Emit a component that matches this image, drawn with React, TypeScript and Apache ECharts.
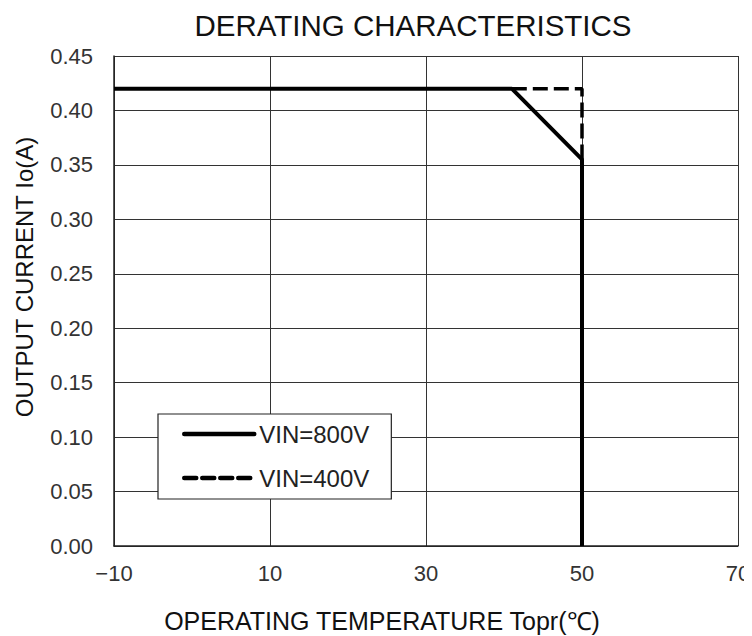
import React, { useEffect, useRef } from "react";
import * as echarts from "echarts";

const xTicks = [-10, 10, 30, 50, 70];
const yTicks = [0, 0.05, 0.1, 0.15, 0.2, 0.25, 0.3, 0.35, 0.4, 0.45];
const vin800: [number, number][] = [
  [-10, 0.42],
  [41, 0.42],
  [50, 0.355],
  [50, 0],
];
const vin400: [number, number][] = [
  [41, 0.42],
  [50, 0.42],
  [50, 0.355],
];
const seriesNames = ["VIN=800V", "VIN=400V"];
const titleText = "DERATING CHARACTERISTICS";
const xName = "OPERATING TEMPERATURE Topr(\u2103)";
const yName = "OUTPUT CURRENT Io(A)";

const FONT = "'Liberation Sans', Arial, sans-serif";

export default function App() {
  const ref = useRef<HTMLDivElement>(null);
  useEffect(() => {
    if (!ref.current) return;
    const chart = echarts.init(ref.current, null, { renderer: "svg" });
    chart.setOption({
      animation: false,
      backgroundColor: "#ffffff",
      title: {
        text: titleText,
        left: 408,
        top: 5,
        textAlign: "center",
        textStyle: { fontFamily: FONT, fontSize: 29.5, fontWeight: "normal", color: "#111" },
      },
      graphic: [
        {
          type: "text",
          x: 24,
          y: 277,
          rotation: Math.PI / 2,
          style: {
            text: yName,
            fontFamily: FONT,
            fontSize: 24,
            fill: "#111",
            textAlign: "center",
            textVerticalAlign: "middle",
          },
        },
        {
          type: "text",
          x: 382,
          y: 621,
          style: {
            text: xName,
            fontFamily: FONT,
            fontSize: 25,
            fill: "#111",
            textAlign: "center",
            textVerticalAlign: "middle",
          },
        },
      ],
      grid: { left: 114, top: 56, right: 14, bottom: 90, outerBoundsMode: "none", containLabel: false },
      xAxis: {
        type: "value",
        min: -10,
        max: 70,
        interval: 10,
        axisLine: { show: true, onZero: false, lineStyle: { color: "#222", width: 1.5 } },
        axisTick: { show: false, customValues: xTicks },
        axisLabel: {
          customValues: xTicks,
          fontFamily: FONT,
          fontSize: 22,
          color: "#333",
          margin: 16,
          formatter: (v: number) => (v < 0 ? "\u2212" + Math.abs(v) : String(v)),
        },
        splitLine: { show: true, lineStyle: { color: "#333", width: 1 } },
      },
      yAxis: {
        type: "value",
        min: 0,
        max: 0.45,
        interval: 0.05,
        axisLine: { show: true, onZero: false, lineStyle: { color: "#222", width: 1.5 } },
        axisTick: { show: false },
        axisLabel: {
          fontFamily: FONT,
          fontSize: 22,
          color: "#333",
          margin: 21,
          formatter: (v: number) => {
            const t = yTicks.find((y) => Math.abs(y - v) < 1e-9);
            return t === undefined ? "" : t.toFixed(2);
          },
        },
        splitLine: { show: true, lineStyle: { color: "#333", width: 1 } },
      },
      legend: {
        orient: "vertical",
        left: 158,
        top: 414,
        padding: [8, 22, 9, 24],
        itemGap: 20,
        itemWidth: 70,
        itemHeight: 24,
        backgroundColor: "#fff",
        borderColor: "#222",
        borderWidth: 1.2,
        borderRadius: 0,
        data: [
          { name: seriesNames[0], lineStyle: { width: 4.5, cap: "round" } },
          { name: seriesNames[1], lineStyle: { width: 4.5, cap: "round", type: [12, 6] } },
        ],
        itemStyle: { opacity: 0, color: "rgba(0,0,0,0)", borderWidth: 0 },
        textStyle: { fontFamily: FONT, fontSize: 24, color: "#222" },
      },
      series: [
        {
          name: seriesNames[1],
          type: "line",
          data: vin400,
          symbol: "none",
          z: 2,
          lineStyle: { color: "#000", width: 3.5, type: [15, 6] },
          itemStyle: { color: "#000" },
        },
        {
          name: seriesNames[0],
          type: "line",
          data: vin800,
          symbol: "none",
          z: 3,
          lineStyle: { color: "#000", width: 4 },
          itemStyle: { color: "#000" },
        },
      ],
    });
    return () => chart.dispose();
  }, []);
  return <div ref={ref} style={{ width: 752, height: 636, marginLeft: -8, marginTop: -8 }} />;
}
